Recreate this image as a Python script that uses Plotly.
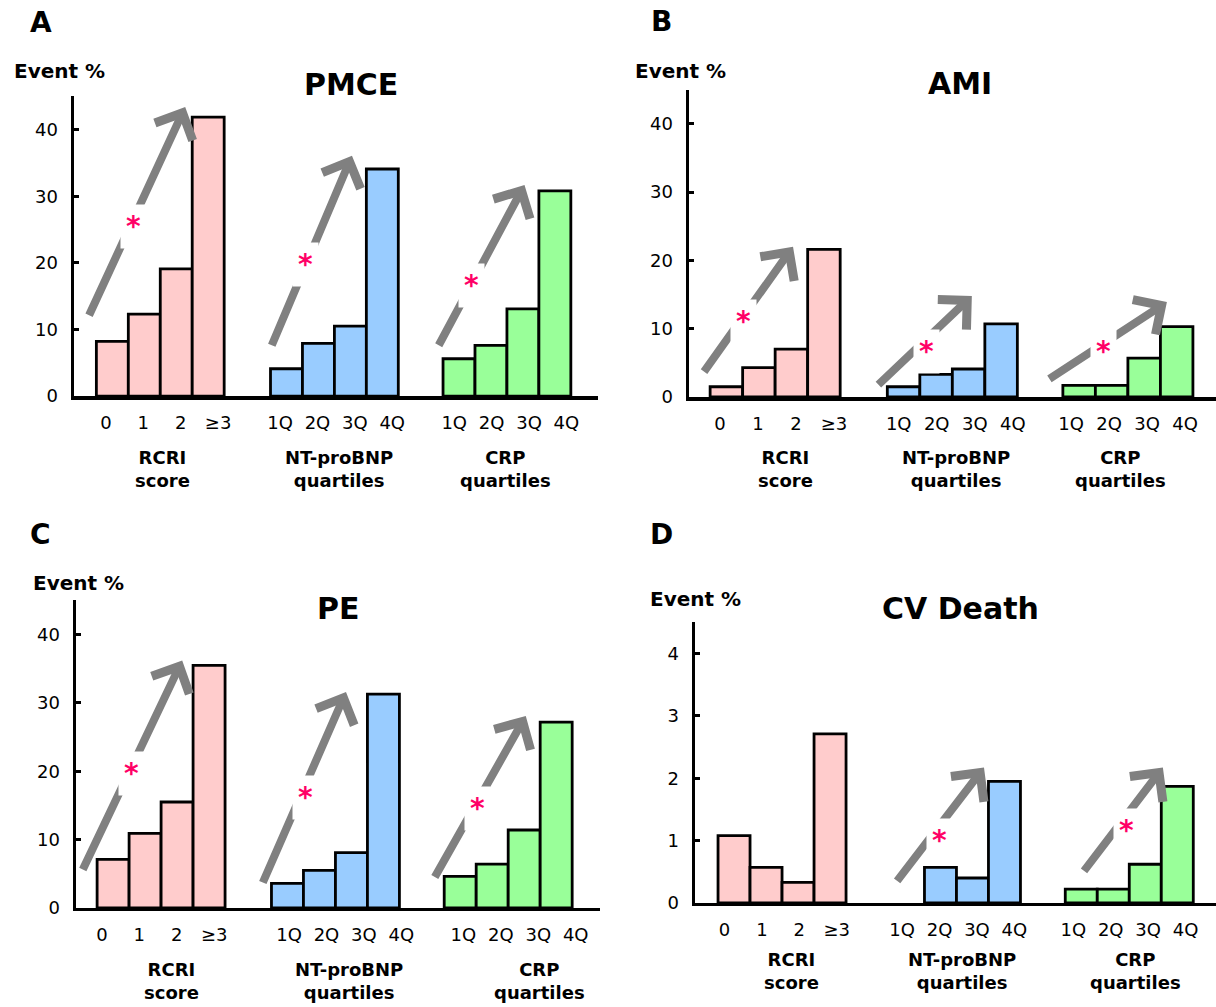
import plotly.graph_objects as go

W, H = 1216, 1007

# ---------------- data ----------------
rcri_labels = ["0", "1", "2", "≥3"]
quart_labels = ["1Q", "2Q", "3Q", "4Q"]
group_names = ["RCRI<br>score", "NT-proBNP<br>quartiles", "CRP<br>quartiles"]
group_colors = ["#FFCCCC", "#99CCFF", "#99FF99"]

pmce_rcri = [8.2, 12.3, 19.1, 41.9]
pmce_ntprobnp = [4.1, 7.9, 10.5, 34.1]
pmce_crp = [5.6, 7.6, 13.1, 30.8]

ami_rcri = [1.5, 4.3, 7.0, 21.6]
ami_ntprobnp = [1.5, 3.3, 4.1, 10.7]
ami_crp = [1.7, 1.7, 5.7, 10.3]

pe_rcri = [7.1, 10.9, 15.5, 35.5]
pe_ntprobnp = [3.6, 5.5, 8.1, 31.3]
pe_crp = [4.6, 6.4, 11.4, 27.2]

cvd_rcri = [1.08, 0.57, 0.33, 2.71]
cvd_ntprobnp = [None, 0.57, 0.40, 1.95]
cvd_crp = [0.22, 0.22, 0.62, 1.87]

# ---------------- layout geometry (pixels / axis units) ----------------
group_offsets = [0.0, 5.45, 10.85]

panels = [
    dict(letter="A", title="PMCE", series=[pmce_rcri, pmce_ntprobnp, pmce_crp],
         x0=74, x1=598, base=400, ppu=6.725, ymax=45, yticks=[0, 10, 20, 30, 40],
         xr=[-1.2, 15.2], lshift=[0.0, 0.0, 0.05], gx=[1.56, 7.1, 12.29], gy=474,
         letter_xy=(41, 23), title_xy=(351, 85), ev_xy=(59, 72),
         arrows=[((-0.75, 11.9), (2.28, 43.4)), ((4.97, 7.4), (7.5, 36.1)), ((10.19, 7.4), (12.9, 31.7))],
         stars=[(0.66, 26.3), (6.06, 20.7), (11.25, 17.5)]),
    dict(letter="B", title="AMI", series=[ami_rcri, ami_ntprobnp, ami_crp],
         x0=689, x1=1216, base=401, ppu=6.9, ymax=45, yticks=[0, 10, 20, 30, 40],
         xr=[-1.15, 15.06], lshift=[0.0, 0.05, -0.05], gx=[1.83, 7.06, 12.11], gy=474,
         letter_xy=(661, 22), title_xy=(960, 84), ev_xy=(680, 72),
         arrows=[((-0.72, 3.5), (2.05, 22.0)), ((4.63, 1.6), (7.55, 14.8)), ((9.89, 2.5), (13.55, 13.9))],
         stars=[(0.54, 12.0), (6.14, 7.5), (11.59, 7.5)]),
    dict(letter="C", title="PE", series=[pe_rcri, pe_ntprobnp, pe_crp],
         x0=76, x1=600, base=917, ppu=6.9, ymax=45, yticks=[0, 10, 20, 30, 40],
         xr=[-1.16, 15.22], lshift=[-0.15, 0.25, 0.3], gx=[1.81, 7.38, 13.34], gy=991,
         letter_xy=(40, 540), title_xy=(338, 615), ev_xy=(78, 589),
         arrows=[((-0.97, 5.4), (2.16, 36.2)), ((4.66, 3.5), (7.28, 31.6)), ((10.03, 4.3), (12.9, 28.1))],
         stars=[(0.59, 20.6), (6.0, 17.1), (11.38, 15.4)]),
    dict(letter="D", title="CV Death", series=[cvd_rcri, cvd_ntprobnp, cvd_crp],
         x0=695, x1=1216, base=912, ppu=63.0, ymax=4.5, yticks=[0, 1, 2, 3, 4],
         xr=[-1.22, 15.06], lshift=[-0.1, 0.0, -0.05], gx=[1.78, 7.13, 12.56], gy=981,
         letter_xy=(661, 540), title_xy=(960, 615), ev_xy=(695, 605),
         arrows=[None, ((5.06, 0.33), (7.81, 2.17)), ((10.9, 0.49), (13.4, 2.17))],
         stars=[None, (6.41, 1.10), (12.25, 1.25)]),
]

FONT = "DejaVu Sans"
GRAY = "#808080"
STAR = "#FF0066"


def px(x):
    return x / W


def py(y):
    return 1 - y / H


fig = go.Figure()
annotations = []
star_annots = []
layout_axes = {}

for k, p in enumerate(panels):
    n = k + 1
    xa = "x" if n == 1 else f"x{n}"
    ya = "y" if n == 1 else f"y{n}"
    xkey = "xaxis" if n == 1 else f"xaxis{n}"
    ykey = "yaxis" if n == 1 else f"yaxis{n}"

    cats = [rcri_labels, quart_labels, quart_labels]
    tickvals, ticktext = [], []
    for g, vals in enumerate(p["series"]):
        xs = [group_offsets[g] + i for i in range(len(vals))]
        fig.add_trace(go.Bar(
            x=xs, y=vals, width=1.0, xaxis=xa, yaxis=ya,
            marker=dict(color=group_colors[g], line=dict(color="black", width=2.8)),
            showlegend=False, hoverinfo="skip"))
        for i, lab in enumerate(cats[g]):
            tickvals.append(group_offsets[g] + i * 1.17 - 0.2 + p["lshift"][g])
            ticktext.append(lab)

    top = p["base"] - p["ymax"] * p["ppu"]
    layout_axes[xkey] = dict(
        domain=[px(p["x0"]), px(p["x1"])], range=p["xr"], anchor=ya,
        showline=True, linecolor="black", linewidth=3.5, showgrid=False, zeroline=False,
        ticks="", tickvals=tickvals, ticktext=ticktext, ticklabelstandoff=8,
        tickfont=dict(family=FONT, size=18, color="black"), fixedrange=True)
    layout_axes[ykey] = dict(
        domain=[py(p["base"]), py(top)], range=[0, p["ymax"]], anchor=xa,
        showline=True, linecolor="black", linewidth=3.5, showgrid=False, zeroline=False,
        ticks="inside", ticklen=5, tickwidth=3, tickcolor="black",
        tickvals=p["yticks"], ticklabelstandoff=9,
        tickfont=dict(family=FONT, size=18, color="black"), fixedrange=True)

    # panel letter, title, y label
    annotations.append(dict(text="<b>%s</b>" % p["letter"], x=px(p["letter_xy"][0]), y=py(p["letter_xy"][1]),
                            xref="paper", yref="paper", showarrow=False, xanchor="center", yanchor="middle",
                            font=dict(family=FONT, size=28, color="black")))
    annotations.append(dict(text="<b>%s</b>" % p["title"], x=px(p["title_xy"][0]), y=py(p["title_xy"][1]),
                            xref="paper", yref="paper", showarrow=False, xanchor="center", yanchor="middle",
                            font=dict(family=FONT, size=30, color="black")))
    annotations.append(dict(text="<b>Event %</b>", x=px(p["ev_xy"][0]), y=py(p["ev_xy"][1]),
                            xref="paper", yref="paper", showarrow=False, xanchor="center", yanchor="middle",
                            font=dict(family=FONT, size=20, color="black")))
    # group labels
    for g, name in enumerate(group_names):
        annotations.append(dict(text="<b>%s</b>" % name, x=p["gx"][g], y=py(p["gy"]),
                                xref=xa, yref="paper", showarrow=False, xanchor="center", yanchor="middle",
                                font=dict(family=FONT, size=18, color="black")))
    # trend arrows
    for arr in p["arrows"]:
        if arr is None:
            continue
        (tx, ty), (hx, hy) = arr
        annotations.append(dict(text="", x=hx, y=hy, ax=tx, ay=ty, xref=xa, yref=ya, axref=xa, ayref=ya,
                                showarrow=True, arrowhead=4, arrowsize=1, arrowwidth=8,
                                arrowcolor=GRAY, standoff=0, startstandoff=0))
    for st in p["stars"]:
        if st is None:
            continue
        star_annots.append(dict(text="<b>*</b>", x=st[0], y=st[1], xref=xa, yref=ya, showarrow=False,
                                xanchor="center", yanchor="middle", yshift=-6,
                                bgcolor="white", borderpad=5,
                                font=dict(family=FONT, size=28, color=STAR)))

fig.update_layout(
    width=W, height=H, margin=dict(l=0, r=0, t=0, b=0),
    paper_bgcolor="white", plot_bgcolor="white",
    barmode="overlay", showlegend=False,
    annotations=annotations + star_annots,
    **layout_axes)

fig.write_html("out.html", config={"displayModeBar": False, "staticPlot": True},
               post_script="document.body.style.margin='0';document.body.style.overflow='hidden';")
